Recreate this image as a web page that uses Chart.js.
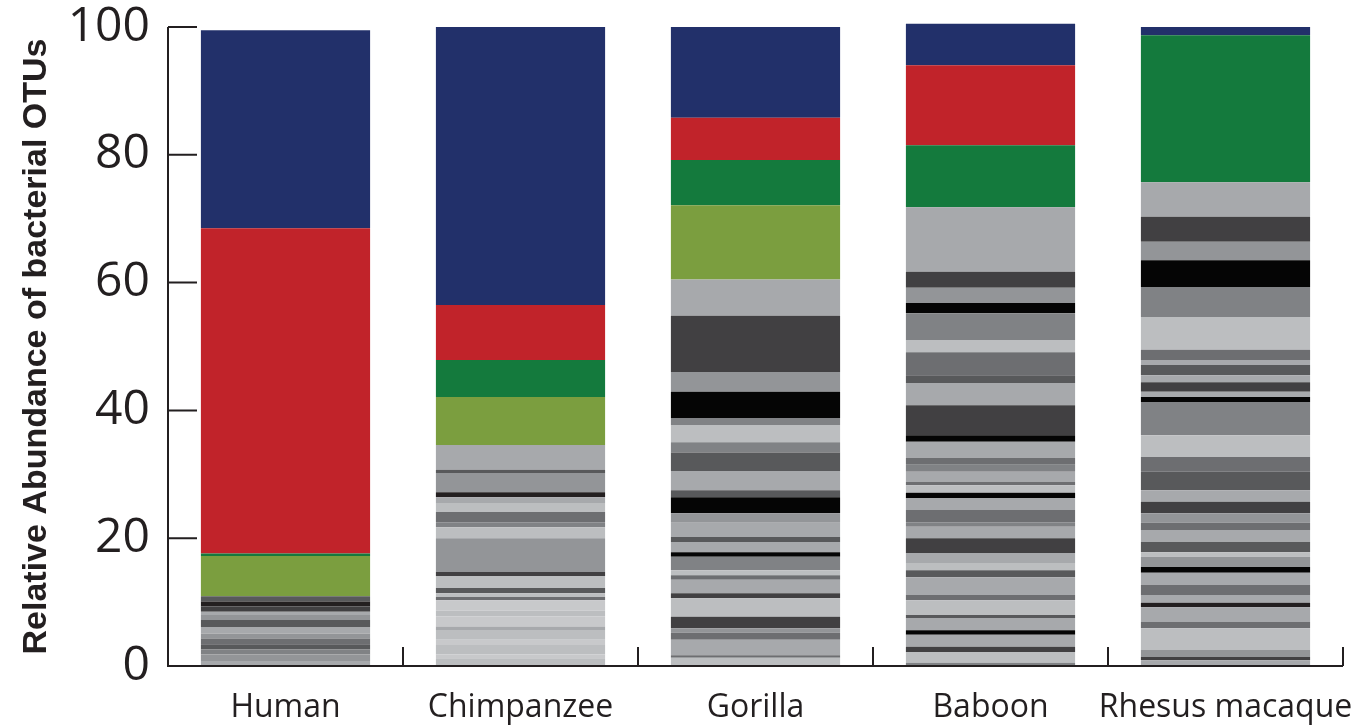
<!DOCTYPE html>
<html>
<head>
<meta charset="utf-8">
<script src="https://cdn.jsdelivr.net/npm/chart.js@4/dist/chart.umd.min.js"></script>
<style>
  html, body { margin: 0; padding: 0; background: #ffffff; }
  #wrap { width: 1356px; height: 728px; }
</style>
</head>
<body>
<div id="wrap"><canvas id="otuChart" width="1356" height="728"></canvas></div>
<script>
// Host species along the x axis
const species = ['Human', 'Chimpanzee', 'Gorilla', 'Baboon', 'Rhesus macaque'];
const yTickValues = [0, 20, 40, 60, 80, 100];

// Relative abundance (%) of each OTU, stacked from the bottom of each bar up
const humanShares = [0.8, 1.0, 0.8, 0.8, 0.9, 0.8, 1.0, 1.1, 0.8, 0.5, 0.8, 0.8, 0.8,
  6.3, 0.4, 50.9, 31.0];
const chimpShares = [1.2, 0.6, 1.5, 0.8, 1.4, 0.7, 1.6, 0.9, 1.6, 0.5, 0.6, 0.8, 1.9, 0.6,
  5.3, 1.7, 0.8, 1.6, 1.4, 0.9, 0.8, 3.0, 0.5, 3.9,
  7.5, 5.8, 8.6, 43.5];
const gorillaShares = [1.3, 0.4, 2.4, 1.1, 0.7, 1.8, 2.9, 0.8, 2.1, 0.7, 0.8, 2.1, 0.7, 1.6,
  0.8, 2.2, 1.5, 2.5, 1.1, 3.0, 2.9, 1.6, 2.7, 1.1, 4.1, 3.1, 8.8, 5.7,
  11.6, 7.1, 6.6, 14.2];
const baboonShares = [0.5, 1.7, 0.8, 1.9, 0.7, 1.9, 0.5, 2.3, 0.8, 2.8, 1.1, 1.1, 1.6, 2.3,
  1.8, 0.7, 1.9, 1.9, 0.8, 1.2, 0.5, 1.6, 1.1, 1.1, 2.5, 1.0, 4.7, 3.5, 1.2, 3.6, 1.9, 4.2,
  1.6, 2.4, 2.5, 10.1,
  9.7, 12.5, 6.5];
const rhesusShares = [0.9, 0.5, 1.1, 3.4, 1.0, 2.3, 0.7, 1.2, 1.6, 1.9, 0.9, 1.6, 0.7, 1.6,
  1.9, 1.1, 1.5, 1.8, 1.8, 2.9, 2.3, 3.4, 5.2, 0.8, 0.8, 1.5, 1.1, 1.6, 0.8, 1.6, 5.1, 4.7,
  4.2, 2.9, 3.9, 5.4,
  23.0, 1.3];

// Fill keys for each OTU segment (same order as the shares above)
const humanShades = ['g2', 'g3', 'g4', 'g6', 'g5', 'g3', 'g2', 'g6', 'g3', 'g2', 'g7', 'g8', 'g6',
  'lg', 'dg', 'rd', 'nv'];
const chimpShades = ['g1', 'g0', 'g1', 'g0', 'g1', 'g2', 'g0', 'g1', 'g0', 'g5', 'g1', 'g6', 'g1', 'g7',
  'g3', 'g1', 'g4', 'g5', 'g1', 'g2', 'g8', 'g3', 'g6', 'g2',
  'lg', 'dg', 'rd', 'nv'];
const gorillaShades = ['g1', 'g5', 'g2', 'g5', 'g3', 'g7', 'g1', 'g7', 'g2', 'g5', 'g1', 'g4', 'k', 'g2',
  'g6', 'g2', 'g3', 'k', 'g6', 'g2', 'g6', 'g4', 'g1', 'g4', 'k', 'g3', 'g7', 'g2',
  'lg', 'dg', 'rd', 'nv'];
const baboonShades = ['g4', 'g1', 'g7', 'g2', 'k', 'g2', 'g6', 'g1', 'g5', 'g2', 'g6', 'g1', 'g2', 'g7',
  'g2', 'g4', 'g5', 'g2', 'k', 'g1', 'g5', 'g2', 'g4', 'g5', 'g2', 'k', 'g7', 'g2', 'g6', 'g5', 'g1', 'g4',
  'k', 'g3', 'g7', 'g2',
  'dg', 'rd', 'nv'];
const rhesusShades = ['g2', 'g7', 'g3', 'g1', 'g5', 'g2', 'g8', 'g2', 'g5', 'g2', 'k', 'g3', 'g1', 'g6',
  'g2', 'g5', 'g3', 'g7', 'g2', 'g6', 'g5', 'g1', 'g4', 'k', 'g2', 'g7', 'g2', 'g6', 'g2', 'g5', 'g1', 'g4',
  'k', 'g3', 'g7', 'g2',
  'dg', 'nv'];

const palette = {
  g0: '#c8c9cb', g1: '#bcbec0', g2: '#a7a9ac', g3: '#939598', g4: '#808285',
  g5: '#6d6e71', g6: '#58595b', g7: '#414042', g8: '#231f20', k: '#050505',
  lg: '#7b9e3f', dg: '#147a3d', rd: '#c1232a', nv: '#22306a'
};

const sharesBySpecies = [humanShares, chimpShares, gorillaShares, baboonShares, rhesusShares];
const shadesBySpecies = [humanShades, chimpShades, gorillaShades, baboonShades, rhesusShades];

// One stacked dataset per segment level; each species fills its own level
const levels = Math.max(...sharesBySpecies.map(s => s.length));
const datasets = [];
for (let i = 0; i < levels; i++) {
  datasets.push({
    data: sharesBySpecies.map(s => (i < s.length ? s[i] : null)),
    backgroundColor: shadesBySpecies.map(s => (i < s.length ? palette[s[i]] : 'rgba(0,0,0,0)')),
    borderWidth: 0,
    barPercentage: 0.72,
    categoryPercentage: 1.0
  });
}

const ink = '#231f20';

// Axis lines with inward tick marks
const axisFrame = {
  id: 'axisFrame',
  afterDatasetsDraw(chart) {
    const { ctx, scales: { x, y } } = chart;
    const x0 = x.left, x1 = x.right;
    const y0 = y.getPixelForValue(0), yTop = y.getPixelForValue(100);
    ctx.save();
    ctx.strokeStyle = ink;
    ctx.lineWidth = 2;
    ctx.beginPath();
    ctx.moveTo(x0, yTop);
    ctx.lineTo(x0, y0);
    ctx.lineTo(x1, y0);
    yTickValues.forEach(v => {
      const py = y.getPixelForValue(v);
      ctx.moveTo(x0, py);
      ctx.lineTo(x0 + 29, py);
    });
    species.forEach((_, i) => {
      const px = x.getPixelForValue(i + 0.5);
      ctx.moveTo(px, y0);
      ctx.lineTo(px, y0 - 19);
    });
    ctx.stroke();
    ctx.restore();
  }
};

new Chart(document.getElementById('otuChart'), {
  type: 'bar',
  data: { labels: species, datasets },
  plugins: [axisFrame],
  options: {
    responsive: false,
    animation: false,
    clip: false,
    layout: { padding: { top: 27, right: 13, left: 0, bottom: 0 } },
    plugins: { legend: { display: false }, tooltip: { enabled: false } },
    scales: {
      x: {
        stacked: true,
        grid: { display: false, drawTicks: false },
        border: { display: false },
        ticks: {
          color: ink,
          padding: 23,
          autoSkip: false,
          maxRotation: 0,
          minRotation: 0,
          font: { family: 'Open Sans', size: 32 }
        },
        afterFit(scale) {
          scale.height = 62;
          scale.paddingLeft = 0;
          scale.paddingRight = 0;
        }
      },
      y: {
        stacked: true,
        min: 0,
        max: 100,
        grid: { display: false, drawTicks: false },
        border: { display: false },
        afterBuildTicks(scale) { scale.ticks = yTickValues.map(v => ({ value: v })); },
        ticks: {
          color: ink,
          padding: 18,
          font: { family: 'Open Sans', size: 48, lineHeight: 0.3 }
        },
        title: {
          display: true,
          text: 'Relative Abundance of bacterial OTUs',
          color: ink,
          padding: { top: 16, bottom: 0 },
          font: { family: 'Liberation Sans', size: 34, weight: 'bold' }
        },
        afterFit(scale) { scale.width = 168; }
      }
    }
  }
});
</script>
</body>
</html>
